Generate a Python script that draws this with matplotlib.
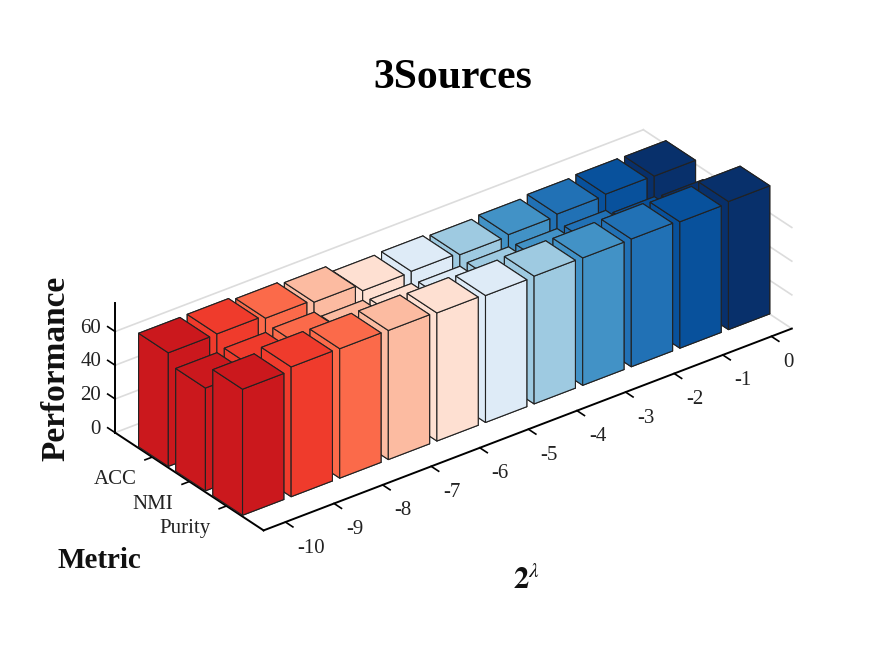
import matplotlib
matplotlib.use("Agg")
import matplotlib.pyplot as plt

plt.rcParams['font.family'] = ['Liberation Serif', 'DejaVu Serif']
plt.rcParams['mathtext.fontset'] = 'stix'

# data
lambdas = [-10, -9, -8, -7, -6, -5, -4, -3, -2, -1, 0]
metrics = ['ACC', 'NMI', 'Purity']
acc = [67.4, 67.6, 65.9, 64.4, 60.2, 60.7, 59.5, 60.4, 61.6, 62.4, 62.1]
nmi = [61.0, 62.0, 63.0, 59.0, 58.0, 57.2, 57.7, 57.5, 57.3, 54.4, 53.5]
purity = [74.8, 77.0, 76.8, 76.6, 76.0, 75.3, 75.8, 75.6, 75.8, 75.0, 76.0]
colors = ['#CB181D', '#EF3B2C', '#FB6A4A', '#FCBBA1', '#FEE0D2', '#DEEBF7',
          '#9ECAE1', '#4292C6', '#2171B5', '#08519C', '#08306B']
z_ticks = [0, 20, 40, 60]

xlim = (-10.45, 0.42)
ylim = (4, 0)
ztop = 77

W, H = 875, 656
S = 900
fig = plt.figure(figsize=(8.75, 6.56), dpi=100)
ax = fig.add_axes([-8.7 / W, -121.9 / H, S / W, S / H], projection='3d',
                  proj_type='ortho', computed_zorder=False)
ax.set_axis_off()
ax.patch.set_alpha(0)
ax.view_init(elev=30.1, azim=-127.3)
ax.set_box_aspect((664, 245, 150), zoom=0.7804)

# walls
grid = '#dcdcdc'
for z in z_ticks:
    ax.plot(xlim, [ylim[1]] * 2, [z, z], color=grid, lw=1.2, zorder=1)
    ax.plot([xlim[1]] * 2, ylim, [z, z], color=grid, lw=1.2, zorder=1)

# axis lines and ticks
ax.plot(xlim, [ylim[0]] * 2, [0, 0], color='k', lw=1.4, zorder=2)
ax.plot([xlim[0]] * 2, ylim, [0, 0], color='k', lw=1.4, zorder=2)
ax.plot([xlim[0]] * 2, [ylim[1]] * 2, [0, ztop], color='k', lw=1.4, zorder=2)
for v in lambdas:
    ax.plot([v, v], [4, 4.2], [0, 0], color='k', lw=1.2, zorder=2)
    ax.text(v, 4.32, -10.8, str(v), fontsize=15, ha='left', va='center', color='#222222')
for j, m in enumerate(metrics):
    ax.plot([xlim[0], xlim[0] - 0.15], [j + 1, j + 1], [0, 0], color='k', lw=1.2, zorder=2)
    ax.text(xlim[0] - 0.33, j + 1, -9.7, m, fontsize=15, ha='right', va='center', color='#222222')
for z in z_ticks:
    ax.plot([xlim[0]] * 2, [0, -0.2], [z, z], color='k', lw=1.2, zorder=2)
    ax.text(xlim[0], -0.38, z - 3.5, str(z), fontsize=15, ha='right', va='center', color='#222222')

# bars, far ones first
order = 3
for j, row in enumerate([acc, nmi, purity]):
    for i in range(len(lambdas) - 1, -1, -1):
        ax.bar3d(lambdas[i] - 0.425, j + 1 - 0.4, 0, 0.85, 0.8, row[i],
                 color=colors[i], edgecolor='#222222', linewidth=0.8,
                 shade=False, zorder=order)
        order += 1

ax.set_xlim(*xlim, view_margin=0)
ax.set_ylim(*ylim, view_margin=0)
ax.set_zlim(0, ztop, view_margin=0)

fig.text(453 / W, 1 - 78 / H, '3Sources', fontsize=30, fontweight='bold', ha='center', va='center')
fig.text(56 / W, 1 - 368 / H, 'Performance', fontsize=24, fontweight='bold',
         rotation=90, ha='center', va='center', color='#111111')
fig.text(99 / W, 1 - 560 / H, 'Metric', fontsize=21, fontweight='bold', ha='center', va='center', color='#111111')
fig.text(526 / W, 1 - 581 / H, r'$\mathbf{2}^{\lambda}$', fontsize=22, ha='center', va='center', color='#111111')

fig.savefig('out.png', dpi=100)
